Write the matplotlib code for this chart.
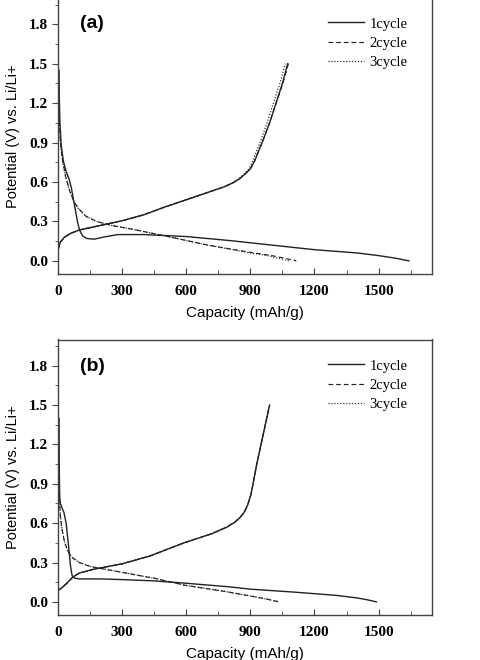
import matplotlib
matplotlib.use("Agg")
import matplotlib.pyplot as plt
from matplotlib.ticker import MultipleLocator

# panel (a) data: capacity (mAh/g), potential (V)
a_dis1_x = [5, 6, 9, 15, 25, 38, 52, 62, 72, 82, 92, 102, 115, 135, 170, 210, 280, 400, 600, 800, 1000, 1200, 1400, 1500, 1580, 1642]
a_dis1_y = [1.45, 1.25, 1.05, 0.88, 0.76, 0.68, 0.62, 0.56, 0.47, 0.38, 0.29, 0.23, 0.19, 0.17, 0.165, 0.18, 0.2, 0.2, 0.185, 0.155, 0.12, 0.085, 0.06, 0.04, 0.02, 0.0]
a_dis2_x = [3, 6, 11, 20, 35, 55, 75, 95, 130, 180, 250, 350, 500, 700, 900, 1000, 1060, 1115]
a_dis2_y = [1.3, 1.08, 0.92, 0.78, 0.65, 0.53, 0.45, 0.4, 0.34, 0.3, 0.27, 0.24, 0.19, 0.12, 0.065, 0.04, 0.02, 0.0]
a_dis3_x = [3, 6, 11, 20, 35, 55, 75, 95, 130, 180, 250, 350, 500, 700, 900, 980, 1030, 1080]
a_dis3_y = [1.3, 1.06, 0.9, 0.77, 0.64, 0.53, 0.45, 0.4, 0.34, 0.3, 0.27, 0.24, 0.19, 0.12, 0.06, 0.04, 0.02, 0.0]
a_chg1_x = [0, 10, 30, 60, 100, 200, 300, 400, 500, 600, 700, 780, 820, 850, 875, 900, 920, 940, 960, 990, 1020, 1050, 1075]
a_chg1_y = [0.08, 0.14, 0.18, 0.21, 0.235, 0.27, 0.305, 0.35, 0.41, 0.465, 0.52, 0.565, 0.595, 0.625, 0.66, 0.7, 0.76, 0.84, 0.92, 1.05, 1.2, 1.35, 1.5]
a_chg2_x = [0, 10, 30, 60, 100, 200, 300, 400, 500, 600, 700, 780, 820, 850, 875, 900, 920, 940, 960, 990, 1021, 1052, 1078]
a_chg2_y = [0.08, 0.14, 0.18, 0.21, 0.235, 0.27, 0.305, 0.35, 0.41, 0.465, 0.52, 0.565, 0.595, 0.625, 0.66, 0.7, 0.76, 0.84, 0.92, 1.05, 1.2, 1.35, 1.5]
a_chg3_x = [0, 10, 30, 60, 100, 200, 300, 400, 500, 600, 700, 780, 818, 846, 870, 893, 912, 930, 950, 978, 1008, 1038, 1064]
a_chg3_y = [0.08, 0.14, 0.18, 0.21, 0.235, 0.27, 0.305, 0.35, 0.41, 0.465, 0.52, 0.565, 0.595, 0.625, 0.66, 0.7, 0.76, 0.84, 0.92, 1.05, 1.2, 1.35, 1.5]

# panel (b) data
b_dis1_x = [5, 6, 8, 11, 18, 28, 38, 48, 58, 66, 80, 100, 200, 300, 450, 600, 800, 900, 1100, 1300, 1400, 1450, 1490]
b_dis1_y = [1.4, 1.0, 0.8, 0.75, 0.72, 0.68, 0.6, 0.45, 0.28, 0.2, 0.18, 0.175, 0.175, 0.17, 0.16, 0.142, 0.115, 0.097, 0.075, 0.05, 0.03, 0.015, 0.0]
b_dis2_x = [3, 5, 7, 11, 18, 30, 45, 65, 100, 150, 200, 300, 450, 600, 780, 900, 980, 1035]
b_dis2_y = [1.2, 0.9, 0.76, 0.66, 0.56, 0.46, 0.39, 0.34, 0.3, 0.27, 0.255, 0.225, 0.18, 0.125, 0.08, 0.045, 0.02, 0.0]
b_dis3_x = [3, 5, 7, 11, 18, 30, 45, 65, 100, 150, 200, 300, 450, 600, 780, 900, 980, 1030]
b_dis3_y = [1.2, 0.9, 0.76, 0.66, 0.56, 0.46, 0.39, 0.34, 0.3, 0.27, 0.255, 0.225, 0.18, 0.125, 0.08, 0.045, 0.02, 0.0]
b_chg1_x = [0, 20, 40, 70, 100, 170, 300, 430, 590, 720, 790, 825, 850, 870, 888, 903, 915, 930, 950, 970, 990]
b_chg1_y = [0.085, 0.11, 0.14, 0.19, 0.22, 0.25, 0.29, 0.35, 0.45, 0.52, 0.57, 0.605, 0.64, 0.68, 0.74, 0.82, 0.92, 1.05, 1.2, 1.35, 1.5]
b_chg2_x = b_chg1_x
b_chg2_y = b_chg1_y
b_chg3_x = b_chg1_x
b_chg3_y = b_chg1_y

labels = ["1cycle", "2cycle", "3cycle"]

W, H = 481, 660
fig = plt.figure(figsize=(W / 100, H / 100), dpi=100)

col = "#222222"
styles = [dict(ls="-", lw=1.0), dict(ls=(0, (4, 2.5)), lw=0.85), dict(ls=(0, (1, 1.5)), lw=0.85)]


def panel(rect, tag, dis, chg, tag_y, leg_y):
    ax = fig.add_axes(rect)
    handles = []
    for i in range(3):
        h, = ax.plot(dis[i][0], dis[i][1], color=col, **styles[i])
        ax.plot(chg[i][0], chg[i][1], color=col, **styles[i])
        handles.append(h)
    ax.set_xlim(0, 1750)
    ax.set_ylim(-0.1, 2.0)
    ax.set_xticks([0, 300, 600, 900, 1200, 1500])
    ax.set_yticks([0.0, 0.3, 0.6, 0.9, 1.2, 1.5, 1.8])
    ax.xaxis.set_minor_locator(MultipleLocator(150))
    ax.yaxis.set_minor_locator(MultipleLocator(0.15))
    ax.set_yticklabels(["0.0", "0.3", "0.6", "0.9", "1.2", "1.5", "1.8"])
    for lab in ax.get_xticklabels() + ax.get_yticklabels():
        lab.set_family("Liberation Serif")
        lab.set_weight("bold")
        lab.set_fontsize(11)
    ax.tick_params(axis="x", which="both", direction="in", length=4, pad=8, color="#444")
    ax.tick_params(axis="x", which="minor", length=3)
    ax.tick_params(axis="y", which="both", direction="out", length=4, pad=3, color="#444")
    ax.tick_params(axis="y", which="minor", length=2.5)
    for s in ax.spines.values():
        s.set_color("#444")
        s.set_linewidth(1.0)
    ax.set_xlabel("Capacity (mAh/g)", family="Liberation Sans", fontsize=11)
    ax.set_ylabel("Potential (V) vs. Li/Li+", family="Liberation Sans", fontsize=10.5)
    ax.xaxis.set_label_coords(0.5, -0.115)
    ax.yaxis.set_label_coords(-0.102, 0.5)
    ax.text(0.059, tag_y, tag, transform=ax.transAxes, family="Liberation Sans",
            weight="bold", fontsize=14, va="center", ha="left")
    ax.legend(handles, labels, loc="upper left", bbox_to_anchor=(0.722, leg_y),
              frameon=False, borderpad=0, borderaxespad=0, handlelength=2.5,
              handletextpad=0.35, labelspacing=0.42,
              prop=dict(family="Liberation Serif", size=10.5))
    return ax


panel([58 / W, 1 - 274 / H, 374 / W, 276 / H], "(a)",
      [(a_dis1_x, a_dis1_y), (a_dis2_x, a_dis2_y), (a_dis3_x, a_dis3_y)],
      [(a_chg1_x, a_chg1_y), (a_chg2_x, a_chg2_y), (a_chg3_x, a_chg3_y)],
      0.906, 0.93)
panel([58 / W, 1 - 615 / H, 374 / W, 275.5 / H], "(b)",
      [(b_dis1_x, b_dis1_y), (b_dis2_x, b_dis2_y), (b_dis3_x, b_dis3_y)],
      [(b_chg1_x, b_chg1_y), (b_chg2_x, b_chg2_y), (b_chg3_x, b_chg3_y)],
      0.901, 0.928)

fig.savefig("out.png", dpi=100)
